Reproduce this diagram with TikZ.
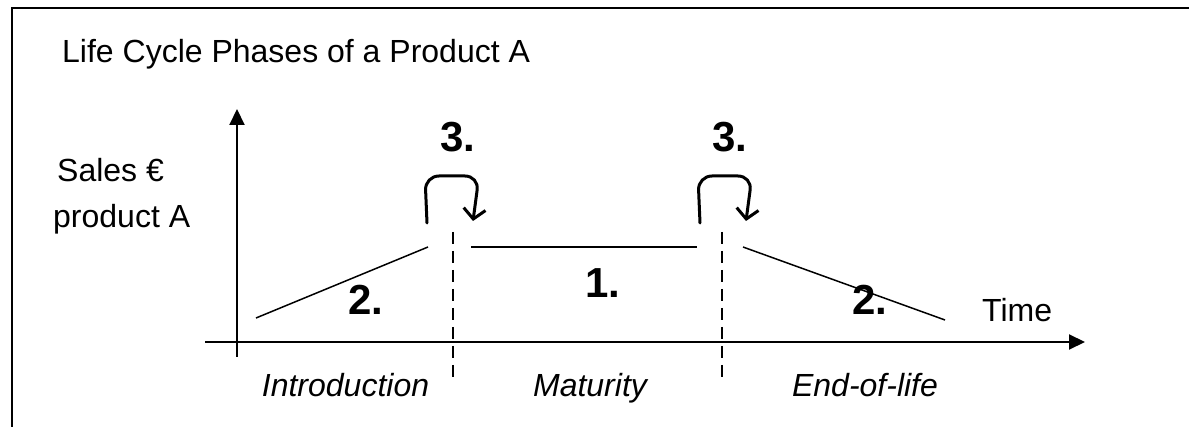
\documentclass[tikz,border=0pt]{standalone}
\usepackage{fontspec}
\setmainfont{Liberation Sans}
\usetikzlibrary{arrows.meta}
\begin{document}
\begin{tikzpicture}[x=1pt,y=-1pt,
  frame/.style={line width=2pt,black},
  axis/.style={line width=2pt,-{Triangle[length=16pt,width=15pt]}},
  trend/.style={line width=1.5pt},
  phase/.style={line width=1.5pt,dash pattern=on 12pt off 7pt},
  loop/.style={line width=3pt,rounded corners=14pt,line cap=round,-{Straight Barb[length=10pt,width=22pt,line width=3pt]}},
  lbl/.style={font=\fontsize{32}{36}\selectfont,inner sep=0pt},
  ital/.style={font=\fontsize{32}{36}\selectfont\itshape,inner sep=0pt},
  num/.style={font=\fontsize{42}{48}\selectfont\bfseries,inner sep=0pt}]
\useasboundingbox (0,0) rectangle (1189,427);
% frame
\coordinate (fbl) at (12,427);
\coordinate (ftl) at (12,8);
\coordinate (ftr) at (1189,8);
\draw[frame] (fbl) -- (ftl) -- (ftr);
% title
\node[lbl,anchor=base west] (title) at (62,63) {Life Cycle Phases of a Product A};
% axes
\coordinate (ybot) at (237,357);
\coordinate (ytop) at (237,109);
\coordinate (xl) at (205,342);
\coordinate (xr) at (1085,342);
\draw[axis] (ybot) -- (ytop);
\draw[axis] (xl) -- (xr);
\node[lbl,anchor=base west] (sales) at (57,182) {Sales €};
\node[lbl,anchor=base west] (prod) at (53,228) {product A};
\node[lbl,anchor=base west] (time) at (982,322) {Time};
% phase boundaries
\coordinate (d1t) at (453,232);
\coordinate (d1b) at (453,377);
\coordinate (d2t) at (722,232);
\coordinate (d2b) at (722,377);
\draw[phase] (d1t) -- (d1b);
\draw[phase] (d2t) -- (d2b);
% trend lines
\coordinate (r1) at (256,318);
\coordinate (r2) at (428,247);
\coordinate (m1) at (471,247);
\coordinate (m2) at (697,247);
\coordinate (e1) at (743,247);
\coordinate (e2) at (945,320);
\draw[trend] (r1) -- (r2);
\draw[trend] (m1) -- (m2);
\draw[trend] (e1) -- (e2);
% loops
\coordinate (a1s) at (427,223);
\coordinate (a1e) at (473,221);
\coordinate (a2s) at (700,223);
\coordinate (a2e) at (746,221);
\draw[loop] (a1s) -- (425,176) -- (479,176) -- (a1e);
\draw[loop] (a2s) -- (698,176) -- (752,176) -- (a2e);
% numbers
\node[num,anchor=base west] (n3a) at (440,152) {3.};
\node[num,anchor=base west] (n3b) at (712,152) {3.};
\node[num,anchor=base west] (n2a) at (348,315) {2.};
\node[num,anchor=base west] (n1) at (585,298) {1.};
\node[num,anchor=base west] (n2b) at (852,315) {2.};
% phase names
\node[ital,anchor=base] (intro) at (345.5,397) {Introduction};
\node[ital,anchor=base] (mat) at (590,397) {Maturity};
\node[ital,anchor=base] (eol) at (865,397) {End-of-life};
\end{tikzpicture}
\end{document}
